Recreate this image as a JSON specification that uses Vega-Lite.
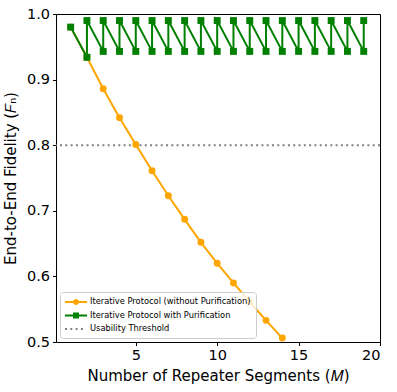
{
  "$schema": "https://vega.github.io/schema/vega-lite/v6.json",
  "width": 324,
  "height": 328,
  "autosize": {"type": "none"},
  "padding": {"left": 56, "top": 14, "right": 17, "bottom": 50},
  "background": "white",
  "config": {
    "font": "DejaVu Sans",
    "view": {"stroke": "black", "strokeWidth": 1},
    "axis": {
      "domain": false,
      "grid": false,
      "tickColor": "black",
      "tickSize": 3.5,
      "tickWidth": 1,
      "labelFont": "DejaVu Sans",
      "labelFontSize": 14.5,
      "labelColor": "black",
      "labelPadding": 3,
      "titleFont": "DejaVu Sans",
      "titleFontSize": 15,
      "titleFontWeight": "normal",
      "titleColor": "black"
    },
    "legend": {
      "labelFont": "DejaVu Sans",
      "labelFontSize": 8.3,
      "labelColor": "black",
      "labelLimit": 400
    }
  },
  "datasets": {
    "pts": [
      {"series": "Iterative Protocol (without Purification)", "M": 1, "F": 0.98, "step": 1},
      {"series": "Iterative Protocol (without Purification)", "M": 2, "F": 0.934, "step": 2},
      {"series": "Iterative Protocol (without Purification)", "M": 3, "F": 0.886, "step": 3},
      {"series": "Iterative Protocol (without Purification)", "M": 4, "F": 0.842, "step": 4},
      {"series": "Iterative Protocol (without Purification)", "M": 5, "F": 0.801, "step": 5},
      {"series": "Iterative Protocol (without Purification)", "M": 6, "F": 0.761, "step": 6},
      {"series": "Iterative Protocol (without Purification)", "M": 7, "F": 0.723, "step": 7},
      {"series": "Iterative Protocol (without Purification)", "M": 8, "F": 0.687, "step": 8},
      {"series": "Iterative Protocol (without Purification)", "M": 9, "F": 0.652, "step": 9},
      {"series": "Iterative Protocol (without Purification)", "M": 10, "F": 0.62, "step": 10},
      {"series": "Iterative Protocol (without Purification)", "M": 11, "F": 0.59, "step": 11},
      {"series": "Iterative Protocol (without Purification)", "M": 12, "F": 0.561, "step": 12},
      {"series": "Iterative Protocol (without Purification)", "M": 13, "F": 0.533, "step": 13},
      {"series": "Iterative Protocol (without Purification)", "M": 14, "F": 0.506, "step": 14},
      {"series": "Iterative Protocol with Purification", "M": 1, "F": 0.98, "step": 1},
      {"series": "Iterative Protocol with Purification", "M": 2, "F": 0.934, "step": 2},
      {"series": "Iterative Protocol with Purification", "M": 2, "F": 0.99, "step": 3},
      {"series": "Iterative Protocol with Purification", "M": 3, "F": 0.943, "step": 4},
      {"series": "Iterative Protocol with Purification", "M": 3, "F": 0.99, "step": 5},
      {"series": "Iterative Protocol with Purification", "M": 4, "F": 0.943, "step": 6},
      {"series": "Iterative Protocol with Purification", "M": 4, "F": 0.99, "step": 7},
      {"series": "Iterative Protocol with Purification", "M": 5, "F": 0.943, "step": 8},
      {"series": "Iterative Protocol with Purification", "M": 5, "F": 0.99, "step": 9},
      {"series": "Iterative Protocol with Purification", "M": 6, "F": 0.943, "step": 10},
      {"series": "Iterative Protocol with Purification", "M": 6, "F": 0.99, "step": 11},
      {"series": "Iterative Protocol with Purification", "M": 7, "F": 0.943, "step": 12},
      {"series": "Iterative Protocol with Purification", "M": 7, "F": 0.99, "step": 13},
      {"series": "Iterative Protocol with Purification", "M": 8, "F": 0.943, "step": 14},
      {"series": "Iterative Protocol with Purification", "M": 8, "F": 0.99, "step": 15},
      {"series": "Iterative Protocol with Purification", "M": 9, "F": 0.943, "step": 16},
      {"series": "Iterative Protocol with Purification", "M": 9, "F": 0.99, "step": 17},
      {"series": "Iterative Protocol with Purification", "M": 10, "F": 0.943, "step": 18},
      {"series": "Iterative Protocol with Purification", "M": 10, "F": 0.99, "step": 19},
      {"series": "Iterative Protocol with Purification", "M": 11, "F": 0.943, "step": 20},
      {"series": "Iterative Protocol with Purification", "M": 11, "F": 0.99, "step": 21},
      {"series": "Iterative Protocol with Purification", "M": 12, "F": 0.943, "step": 22},
      {"series": "Iterative Protocol with Purification", "M": 12, "F": 0.99, "step": 23},
      {"series": "Iterative Protocol with Purification", "M": 13, "F": 0.943, "step": 24},
      {"series": "Iterative Protocol with Purification", "M": 13, "F": 0.99, "step": 25},
      {"series": "Iterative Protocol with Purification", "M": 14, "F": 0.943, "step": 26},
      {"series": "Iterative Protocol with Purification", "M": 14, "F": 0.99, "step": 27},
      {"series": "Iterative Protocol with Purification", "M": 15, "F": 0.943, "step": 28},
      {"series": "Iterative Protocol with Purification", "M": 15, "F": 0.99, "step": 29},
      {"series": "Iterative Protocol with Purification", "M": 16, "F": 0.943, "step": 30},
      {"series": "Iterative Protocol with Purification", "M": 16, "F": 0.99, "step": 31},
      {"series": "Iterative Protocol with Purification", "M": 17, "F": 0.943, "step": 32},
      {"series": "Iterative Protocol with Purification", "M": 17, "F": 0.99, "step": 33},
      {"series": "Iterative Protocol with Purification", "M": 18, "F": 0.943, "step": 34},
      {"series": "Iterative Protocol with Purification", "M": 18, "F": 0.99, "step": 35},
      {"series": "Iterative Protocol with Purification", "M": 19, "F": 0.943, "step": 36},
      {"series": "Iterative Protocol with Purification", "M": 19, "F": 0.99, "step": 37}
    ],
    "thr": [
      {"series": "Usability Threshold", "F": 0.8}
    ]
  },
  "encoding": {
    "y": {
      "field": "F",
      "type": "quantitative",
      "scale": {"domain": [0.5, 1.0], "nice": false, "zero": false},
      "axis": {"values": [0.5, 0.6, 0.7, 0.8, 0.9, 1.0], "format": ".1f", "title": "End-to-End Fidelity (𝐹ₙ)", "titlePadding": 8}
    },
    "color": {
      "field": "series",
      "type": "nominal",
      "scale": {
        "domain": ["Iterative Protocol (without Purification)", "Iterative Protocol with Purification", "Usability Threshold"],
        "range": ["#FFA500", "#008000", "#808080"]
      },
      "legend": {
        "title": null,
        "orient": "bottom-left",
        "offset": 4,
        "padding": 5,
        "fillColor": "rgba(255,255,255,0.8)",
        "strokeColor": "#cccccc",
        "cornerRadius": 3,
        "symbolSize": 100,
        "labelOffset": 15,
        "labelLimit": 400,
        "rowPadding": 4.5,
        "encode": {
          "symbols": {
            "update": {
              "shape": {"signal": "datum.value === 'Usability Threshold' ? 'M-1,-0.2H-0.6V0.2H-1Z M0.06,-0.2H0.46V0.2H0.06Z M1.12,-0.2H1.52V0.2H1.12Z M2.18,-0.2H2.58V0.2H2.18Z' : datum.value === 'Iterative Protocol with Purification' ? 'M-1,-0.2H3.4V0.2H-1Z M0.6,-0.6H1.8V0.6H0.6Z' : 'M-1,-0.2H0.7V0.2H-1Z M1.7,-0.2H3.4V0.2H1.7Z M1.8,0A0.6,0.6 0 1,1 0.6,0A0.6,0.6 0 1,1 1.8,0Z'"},
              "fill": {"scale": "color", "field": "value"},
              "stroke": {"value": "transparent"},
              "strokeWidth": {"value": 0},
              "opacity": {"value": 1}
            }
          }
        }
      }
    }
  },
  "layer": [
    {
      "data": {"name": "thr"},
      "mark": {"type": "rule", "strokeWidth": 2, "strokeDash": [2, 3.3]},
      "encoding": {}
    },
    {
      "data": {"name": "pts"},
      "mark": {"type": "line", "strokeWidth": 2},
      "encoding": {
        "x": {
          "field": "M",
          "type": "quantitative",
          "scale": {"domain": [0.1, 20], "nice": false, "zero": false},
          "axis": {"values": [5, 10, 15, 20], "title": "Number of Repeater Segments (𝑀)", "titlePadding": 6}
        },
        "order": {"field": "step", "type": "quantitative"}
      }
    },
    {
      "data": {"name": "pts"},
      "mark": {"type": "point", "filled": true, "opacity": 1, "size": 48},
      "encoding": {
        "x": {"field": "M", "type": "quantitative"},
        "shape": {
          "field": "series",
          "type": "nominal",
          "scale": {"domain": ["Iterative Protocol (without Purification)", "Iterative Protocol with Purification"], "range": ["circle", "square"]},
          "legend": null
        }
      }
    }
  ]
}
